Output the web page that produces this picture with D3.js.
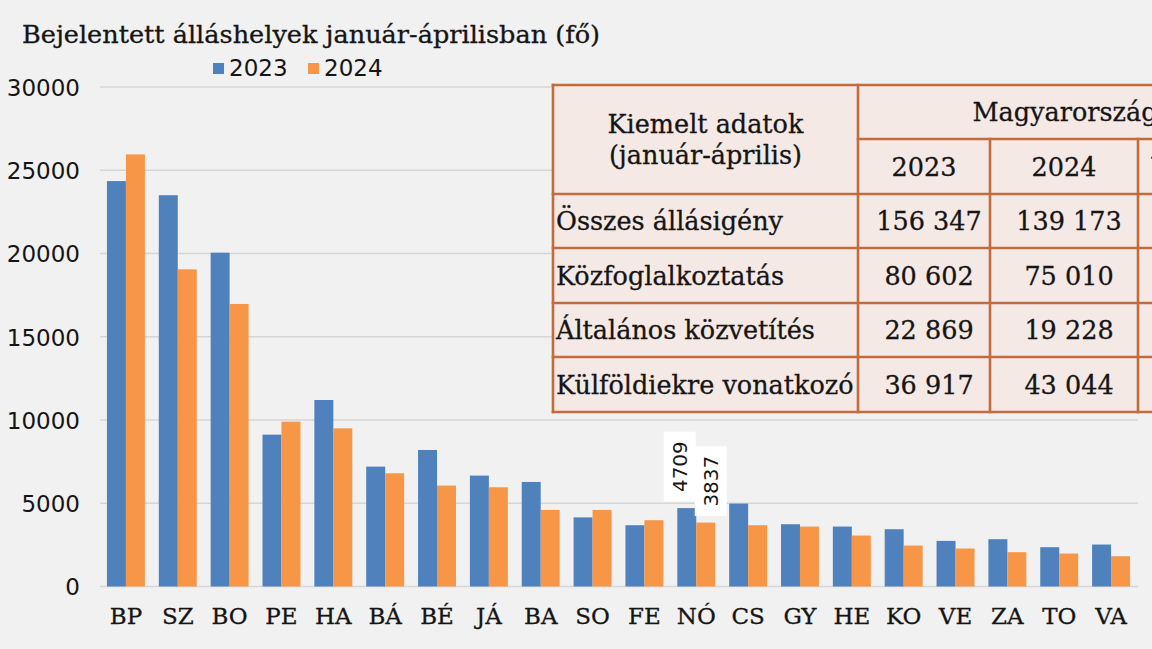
<!DOCTYPE html>
<html>
<head>
<meta charset="utf-8">
<script src="https://cdn.jsdelivr.net/npm/d3@7"></script>
<style>
  body { margin: 0; background: #f1f1f1; }
  svg { display: block; }
</style>
</head>
<body>
<svg id="chart" width="1152" height="649"></svg>
<script>
// megyék (rövidítés) és bejelentett álláshelyek
var categories = ['BP', 'SZ', 'BO', 'PE', 'HA', 'BÁ', 'BÉ', 'JÁ', 'BA', 'SO',
                  'FE', 'NÓ', 'CS', 'GY', 'HE', 'KO', 'VE', 'ZA', 'TO', 'VA'];
var values2023 = [24350, 23500, 20050, 9120, 11200, 7200, 8200, 6660, 6280, 4150,
                  3680, 4709, 4980, 3740, 3600, 3440, 2740, 2840, 2360, 2520];
var values2024 = [25950, 19050, 16970, 9900, 9500, 6800, 6060, 5960, 4600, 4600,
                  3980, 3837, 3680, 3600, 3060, 2460, 2280, 2060, 1980, 1820];
var seriesNames = ['2023', '2024'];
var yTicks = [0, 5000, 10000, 15000, 20000, 25000, 30000];
var labelledCategory = 'NÓ';

// kiemelt adatok táblázat
var tableRowNames = ['Összes állásigény', 'Közfoglalkoztatás', 'Általános közvetítés', 'Külföldiekre vonatkozó'];
var table2023 = ['156 347', '80 602', '22 869', '36 917'];
var table2024 = ['139 173', '75 010', '19 228', '43 044'];
var tableChange = ['-11,0%', '-6,9%', '-15,9%', '16,6%'];

var colors = ['#4f81bd', '#f79646'];
var serif = 'DejaVu Serif';
var sans = 'DejaVu Sans';
var ink = '#151515';

var svg = d3.select('#chart');
svg.append('rect').attr('width', 1152).attr('height', 649).attr('fill', '#f1f1f1');

var x = d3.scaleBand().domain(categories).range([100, 1137]).paddingInner(0.268).paddingOuter(0.134);
var xs = d3.scaleBand().domain(seriesNames).range([0, x.bandwidth()]);
var y = d3.scaleLinear().domain([0, 30000]).range([586.5, 87]);

// title (slightly stretched like the original)
svg.append('text')
   .attr('transform', 'translate(22,43) scale(1.065,1)')
   .attr('font-family', serif).attr('font-size', 24).attr('fill', ink)
   .attr('stroke', ink).attr('stroke-width', 0.3)
   .text('Bejelentett álláshelyek január-áprilisban (fő)');

// legend
var legend = svg.append('g').selectAll('g').data(seriesNames).enter().append('g')
   .attr('transform', function (d, i) { return 'translate(213,63)translate(' + (i * 95) + ',0)'; });
legend.append('rect').attr('width', 11).attr('height', 11).attr('fill', function (d, i) { return colors[i]; });
legend.append('text').attr('x', 16).attr('y', 12.5)
   .attr('font-family', sans).attr('font-size', 23).attr('fill', ink)
   .text(function (d) { return d; });

// grid + y axis
var yAxis = svg.append('g').attr('transform', 'translate(80,0)')
   .call(d3.axisLeft(y).tickValues(yTicks).tickSize(0).tickPadding(0).tickFormat(d3.format('d')));
yAxis.select('.domain').remove();
yAxis.selectAll('text').attr('font-family', sans).attr('font-size', 23).attr('fill', ink)
   .attr('dy', '0.36em');
svg.append('g').selectAll('line').data(yTicks).enter().append('line')
   .attr('x1', 100).attr('x2', 1138)
   .attr('y1', function (d) { return y(d); }).attr('y2', function (d) { return y(d); })
   .attr('stroke', '#d6d6d6').attr('stroke-width', 1.6);

// bars
var series = [values2023, values2024];
var groups = svg.append('g').selectAll('g').data(series).enter().append('g')
   .attr('fill', function (d, i) { return colors[i]; });
groups.selectAll('rect').data(function (d, i) {
      return d.map(function (v, j) { return { cat: categories[j], s: seriesNames[i], v: v }; });
   }).enter().append('rect')
   .attr('x', function (d) { return x(d.cat) + xs(d.s); })
   .attr('width', xs.bandwidth())
   .attr('y', function (d) { return y(d.v); })
   .attr('height', function (d) { return y(0) - y(d.v); });

// x axis labels
var xAxis = svg.append('g').attr('transform', 'translate(0,624)')
   .call(d3.axisBottom(x).tickSize(0).tickPadding(0));
xAxis.select('.domain').remove();
xAxis.selectAll('text').attr('font-family', serif).attr('font-size', 23).attr('fill', ink)
   .attr('stroke', ink).attr('stroke-width', 0.3)
   .attr('dy', 0);

// data labels for one category (rotated, white box)
var labelIdx = categories.indexOf(labelledCategory);
var labelShift = [-7, 5];
series.forEach(function (vals, i) {
   var v = vals[labelIdx];
   var cx = x(labelledCategory) + xs(seriesNames[i]) + xs.bandwidth() / 2 + labelShift[i];
   var bottom = y(v) - 6.5;
   var g = svg.append('g');
   var t = g.append('text')
      .attr('font-family', sans).attr('font-size', 20).attr('fill', ink)
      .attr('text-anchor', 'middle')
      .text(v);
   var len = t.node().getComputedTextLength();
   var h = len + 19;
   g.insert('rect', 'text')
      .attr('x', cx - 16).attr('y', bottom - h)
      .attr('width', 32).attr('height', h)
      .attr('fill', '#ffffff');
   t.attr('transform', 'translate(' + (cx + 7.3) + ',' + (bottom - h / 2) + ') rotate(-90)');
});

// table
var colX = [553, 858, 990, 1138, 1272];
var rowY = [85, 139, 194, 248, 303, 357, 412];
var border = '#c46b3d';
var tfs = 25.5;
var tbl = svg.append('g');
tbl.append('rect').attr('x', colX[0]).attr('y', rowY[0])
   .attr('width', colX[4] - colX[0]).attr('height', rowY[6] - rowY[0]).attr('fill', '#f5e9e6');

var lines = [];
rowY.forEach(function (ry, i) {
   if (i === 1) lines.push([colX[1], ry, colX[4], ry]);
   else lines.push([colX[0], ry, colX[4], ry]);
});
colX.forEach(function (cx, i) {
   lines.push([cx, (i === 0 || i === 1) ? rowY[0] : rowY[1], cx, rowY[6]]);
});
tbl.selectAll('line').data(lines).enter().append('line')
   .attr('x1', function (d) { return d[0]; }).attr('y1', function (d) { return d[1]; })
   .attr('x2', function (d) { return d[2]; }).attr('y2', function (d) { return d[3]; })
   .attr('stroke', border).attr('stroke-width', 2.6).attr('stroke-linecap', 'square');

function cellText(txt, xpos, ypos, anchor) {
   tbl.append('text').attr('x', xpos).attr('y', ypos + tfs * 0.37)
      .attr('text-anchor', anchor || 'middle')
      .attr('font-family', serif).attr('font-size', tfs).attr('fill', ink)
      .attr('stroke', ink).attr('stroke-width', 0.3)
      .text(txt);
}
var c1 = (colX[0] + colX[1]) / 2;
cellText('Kiemelt adatok', c1, 124);
cellText('(január-április)', c1, 155);
cellText('Magyarország', (colX[1] + colX[4]) / 2, (rowY[0] + rowY[1]) / 2);
cellText('2023', (colX[1] + colX[2]) / 2, (rowY[1] + rowY[2]) / 2);
cellText('2024', (colX[2] + colX[3]) / 2, (rowY[1] + rowY[2]) / 2);
cellText('Változás', (colX[3] + colX[4]) / 2, (rowY[1] + rowY[2]) / 2);
tableRowNames.forEach(function (name, i) {
   var cy = (rowY[i + 2] + rowY[i + 3]) / 2;
   cellText(name, colX[0] + 3, cy, 'start');
   cellText(table2023[i], (colX[1] + colX[2]) / 2 + 5, cy);
   cellText(table2024[i], (colX[2] + colX[3]) / 2 + 5, cy);
   cellText(tableChange[i], (colX[3] + colX[4]) / 2, cy);
});
</script>
</body>
</html>
